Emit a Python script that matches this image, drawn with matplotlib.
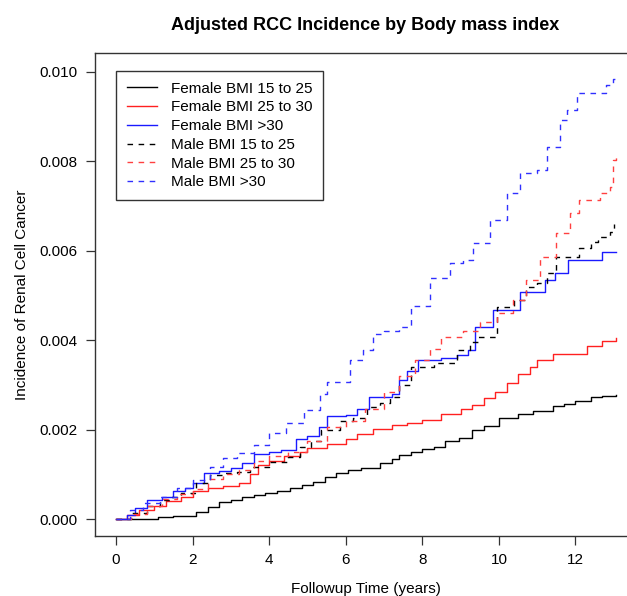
import numpy as np
import matplotlib
matplotlib.use('Agg')
import matplotlib.pyplot as plt

plt.rcParams['font.family'] = ['Liberation Sans', 'DejaVu Sans']

# follow-up time (years) and cumulative incidence (x 1e-3)
f_low_t = [0, 1.1, 1.5, 2.0, 2.1, 2.4, 2.7, 3.0, 3.3, 3.6, 3.9, 4.2, 4.55, 4.85, 5.15, 5.45, 5.75, 6.05,
           6.4, 6.9, 7.2, 7.4, 7.7, 8.0, 8.3, 8.6, 8.95, 9.3, 9.6, 10.0, 10.5, 10.9, 11.4, 11.7, 12.0,
           12.4, 12.7, 13.05]
f_low_v = [0, 0.05, 0.06, 0.07, 0.16, 0.27, 0.38, 0.42, 0.49, 0.53, 0.58, 0.63, 0.69, 0.75, 0.83, 0.93,
           1.03, 1.10, 1.15, 1.25, 1.35, 1.43, 1.50, 1.57, 1.62, 1.75, 1.82, 2.0, 2.08, 2.25, 2.35, 2.42,
           2.53, 2.58, 2.64, 2.72, 2.76, 2.78]

f_mid_t = [0, 0.3, 0.6, 1.0, 1.3, 1.7, 2.0, 2.4, 2.8, 3.2, 3.5, 3.7, 4.0, 4.4, 4.8, 5.0, 5.5, 6.0, 6.3,
           6.7, 7.2, 7.6, 8.0, 8.5, 9.0, 9.3, 9.6, 9.9, 10.2, 10.5, 10.8, 11.0, 11.4, 12.0, 12.3, 12.7, 13.05]
f_mid_v = [0, 0.08, 0.2, 0.3, 0.4, 0.5, 0.63, 0.7, 0.74, 0.8, 1.0, 1.2, 1.3, 1.4, 1.5, 1.58, 1.68, 1.8,
           1.9, 2.02, 2.1, 2.15, 2.22, 2.35, 2.45, 2.55, 2.7, 2.85, 3.05, 3.25, 3.4, 3.55, 3.69, 3.7,
           3.87, 3.98, 4.05]

f_high_t = [0, 0.3, 0.5, 0.8, 1.2, 1.5, 1.8, 2.0, 2.3, 2.7, 3.0, 3.3, 3.6, 4.0, 4.3, 4.7, 5.0, 5.3, 5.5,
            6.0, 6.3, 6.6, 7.2, 7.4, 7.6, 7.9, 8.5, 8.9, 9.2, 9.37, 9.85, 10.55, 11.2, 11.46, 11.8,
            12.7, 13.05]
f_high_v = [0, 0.1, 0.25, 0.42, 0.5, 0.63, 0.7, 0.8, 1.03, 1.08, 1.15, 1.25, 1.45, 1.5, 1.55, 1.8, 1.85,
            2.05, 2.3, 2.33, 2.45, 2.72, 2.8, 3.1, 3.3, 3.55, 3.6, 3.68, 3.78, 4.3, 4.68, 5.08, 5.35,
            5.5, 5.8, 5.97, 5.97]

m_low_t = [0, 0.4, 0.8, 1.15, 1.4, 1.7, 2.1, 2.45, 2.8, 3.15, 3.5, 4.0, 4.5, 4.8, 5.1, 5.35, 5.85, 6.2,
           6.55, 6.9, 7.15, 7.4, 7.7, 8.3, 8.9, 9.25, 9.45, 9.95, 10.4, 10.7, 11.0, 11.25, 11.5, 12.1,
           12.4, 12.6, 12.9, 13.0]
m_low_v = [0, 0.13, 0.28, 0.42, 0.5, 0.58, 0.8, 0.98, 1.02, 1.05, 1.16, 1.28, 1.39, 1.6, 1.75, 2.0, 2.2,
           2.25, 2.5, 2.6, 2.73, 3.0, 3.4, 3.49, 3.78, 3.95, 4.07, 4.75, 4.9, 5.2, 5.28, 5.5, 5.86,
           6.06, 6.2, 6.3, 6.42, 6.6]

m_mid_t = [0, 0.4, 0.8, 1.2, 1.6, 2.0, 2.4, 2.8, 3.2, 3.6, 4.0, 4.5, 5.0, 5.5, 6.0, 6.5, 7.0, 7.4, 7.8,
           8.2, 8.5, 9.06, 9.5, 9.95, 10.37, 10.7, 11.07, 11.5, 11.85, 12.1, 12.64, 12.9, 12.98, 13.05]
m_mid_v = [0, 0.12, 0.3, 0.45, 0.55, 0.68, 0.9, 1.0, 1.1, 1.3, 1.4, 1.5, 1.75, 2.05, 2.2, 2.45, 2.85,
           3.2, 3.55, 3.8, 4.07, 4.2, 4.4, 4.6, 4.9, 5.35, 5.86, 6.4, 6.85, 7.14, 7.29, 7.43, 8.03, 8.1]

m_high_t = [0, 0.37, 0.7, 1.15, 1.6, 2.0, 2.45, 2.8, 3.15, 3.6, 4.0, 4.45, 4.9, 5.33, 5.5, 6.1, 6.45,
            6.7, 7.0, 7.4, 7.7, 8.2, 8.72, 9.06, 9.33, 9.77, 10.2, 10.55, 11.0, 11.25, 11.6, 11.78,
            12.04, 12.8, 12.98, 13.05]
m_high_v = [0, 0.2, 0.35, 0.5, 0.7, 0.87, 1.16, 1.36, 1.47, 1.66, 1.92, 2.15, 2.44, 2.8, 3.07, 3.56,
            3.78, 4.15, 4.2, 4.3, 4.76, 5.4, 5.72, 5.8, 6.17, 6.7, 7.29, 7.74, 7.8, 8.32, 8.93, 9.15,
            9.53, 9.7, 9.85, 9.9]

labels = ['Female BMI 15 to 25', 'Female BMI 25 to 30', 'Female BMI >30',
          'Male BMI 15 to 25', 'Male BMI 25 to 30', 'Male BMI >30']
series = [(f_low_t, f_low_v), (f_mid_t, f_mid_v), (f_high_t, f_high_v),
          (m_low_t, m_low_v), (m_mid_t, m_mid_v), (m_high_t, m_high_v)]
colors = ['black', '#ff2020', '#1a1aff', 'black', '#ff4040', '#3030ff']

fig = plt.figure(figsize=(6.27, 5.96), dpi=100)
W, H = 627, 596
# axes box in pixels: left 95, top 53, bottom 536, right spine just outside the image
ax = fig.add_axes([95 / W, 1 - 536 / H, (636 - 95) / W, (536 - 53) / H])

for i, (t, v) in enumerate(series):
    ls = '-' if i < 3 else (0, (4, 4))
    ax.plot(t, np.array(v) / 1000, drawstyle='steps-post', color=colors[i],
            lw=1.0, linestyle=ls, label=labels[i])

ax.set_xlim(-0.548, 13.58)
ax.set_ylim(-0.00038, 0.010425)
ax.set_xticks([0, 2, 4, 6, 8, 10, 12])
ax.set_yticks([0.0, 0.002, 0.004, 0.006, 0.008, 0.010])
ax.set_yticklabels(['0.000', '0.002', '0.004', '0.006', '0.008', '0.010'])
ax.tick_params(direction='out', length=6.5, width=0.9, color='#333333', labelsize=11, pad=6)
for s in ax.spines.values():
    s.set_color('#333333')
    s.set_linewidth(1.0)

ax.set_xlabel('Followup Time (years)', fontsize=11, va='center')
ax.xaxis.set_label_coords(0.5, (536 - 589) / 483)
ax.set_ylabel('Incidence of Renal Cell Cancer', fontsize=11, va='center')
ax.yaxis.set_label_coords((22 - 95) / 541, 0.5)
ax.text(0.5, 1 + (53 - 26) / 483, 'Adjusted RCC Incidence by Body mass index',
        transform=ax.transAxes, ha='center', va='center', fontsize=13, fontweight='bold')

leg = ax.legend(loc='upper left', bbox_to_anchor=(116 / W, 1 - 71 / H),
                bbox_transform=fig.transFigure, fontsize=11, fancybox=False,
                edgecolor='#333333', framealpha=1, borderpad=0.7, labelspacing=0.31,
                handlelength=2.0, handletextpad=0.9, borderaxespad=0)
leg.get_frame().set_linewidth(1.0)

fig.savefig('out.png', dpi=100)
